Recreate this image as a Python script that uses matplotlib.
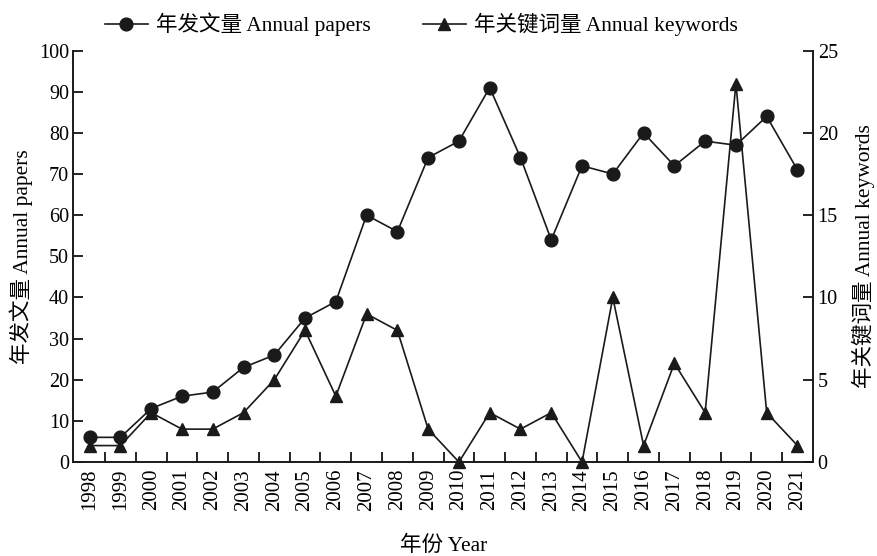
import matplotlib
matplotlib.use("Agg")
import matplotlib.pyplot as plt
from matplotlib.ticker import MultipleLocator, FixedLocator

plt.rcParams['font.family'] = ['Liberation Serif', 'Noto Sans CJK SC']
plt.rcParams['axes.unicode_minus'] = False

years = list(range(1998, 2022))
papers = [6, 6, 13, 16, 17, 23, 26, 35, 39, 60, 56, 74, 78, 91,
          74, 54, 72, 70, 80, 72, 78, 77, 84, 71]
keywords = [1, 1, 3, 2, 2, 3, 5, 8, 4, 9, 8, 2, 0, 3,
            2, 3, 0, 10, 1, 6, 3, 23, 3, 1]

label_papers = '年发文量 Annual papers'
label_keywords = '年关键词量 Annual keywords'
label_year = '年份 Year'

fs_tick = 14.5
fs_xtick = 15
fs_label = 15.5
fig = plt.figure(figsize=(8.78, 5.56), dpi=100)
ax = fig.add_axes([0.0835, 0.169, 0.843, 0.740])
ax2 = ax.twinx()

lw = 1.2
l1, = ax.plot(years, papers, color='#1a1a1a', lw=lw, marker='o', markersize=9.2,
              label=label_papers, clip_on=False, zorder=3)
l2, = ax2.plot(years, keywords, color='#1a1a1a', lw=lw, marker='^', markersize=9.2,
               label=label_keywords, clip_on=False, zorder=3)

ax.set_xlim(1997.47, 2021.52)
ax.set_ylim(0, 100)
ax2.set_ylim(0, 25)
ax.yaxis.set_major_locator(MultipleLocator(10))
ax2.yaxis.set_major_locator(MultipleLocator(5))

# year labels at each year, tick marks between years
ax.xaxis.set_major_locator(FixedLocator(years))
ax.set_xticklabels([str(y) for y in years], rotation=90, fontsize=fs_xtick)
ax.xaxis.set_minor_locator(FixedLocator([y + 0.5 for y in years[:-1]]))
ax.tick_params(axis='x', which='major', length=0, pad=5)
ax.tick_params(axis='x', which='minor', direction='in', length=7, width=1.2)
ax.tick_params(axis='y', direction='in', length=7, width=1.2, labelsize=fs_tick, pad=3)
ax2.tick_params(axis='y', direction='in', length=7, width=1.2, labelsize=fs_tick, pad=3)

for a in (ax, ax2):
    a.spines['top'].set_visible(False)
    for s in ('left', 'right', 'bottom'):
        a.spines[s].set_linewidth(1.2)
        a.spines[s].set_color('#1a1a1a')

ax.set_ylabel(label_papers, fontsize=fs_label, labelpad=4)
ax2.set_ylabel(label_keywords, fontsize=fs_label, labelpad=10)
ax.set_xlabel(label_year, fontsize=fs_label, labelpad=18)

fig.legend(handles=[l1, l2], loc='upper left', bbox_to_anchor=(0.097, 1.012),
           ncol=2, frameon=False, fontsize=fs_label, handlelength=2.0,
           handletextpad=0.4, columnspacing=2.4)

fig.savefig('out.png', dpi=100)
